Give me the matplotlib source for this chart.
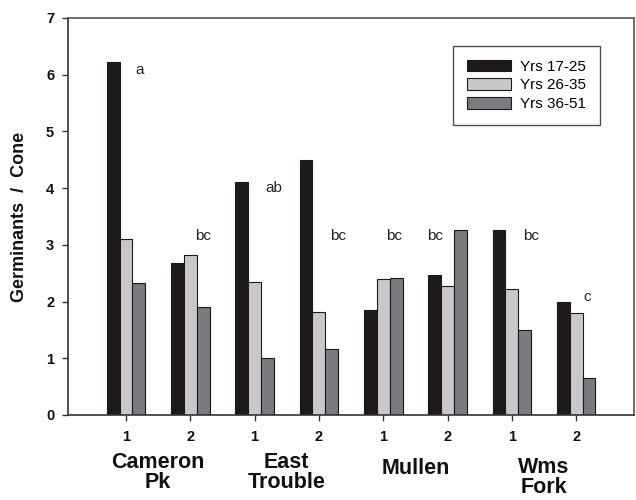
import numpy as np
import matplotlib
matplotlib.use('Agg')
import matplotlib.pyplot as plt
import matplotlib.transforms as mtransforms

plt.rcParams['font.family'] = ['Liberation Sans', 'DejaVu Sans']

# stands and periods
sites = ['Cameron\nPk', 'East\nTrouble', 'Mullen', 'Wms\nFork']
plots = ['1', '2', '1', '2', '1', '2', '1', '2']
series_names = ['Yrs 17-25', 'Yrs 26-35', 'Yrs 36-51']
yrs_17_25 = [6.22, 2.68, 4.10, 4.50, 1.86, 2.47, 3.26, 2.00]
yrs_26_35 = [3.11, 2.82, 2.34, 1.82, 2.39, 2.27, 2.23, 1.79]
yrs_36_51 = [2.32, 1.90, 1.00, 1.16, 2.41, 3.27, 1.49, 0.65]
sig_letters = ['a', 'bc', 'ab', 'bc', 'bc', 'bc', 'bc', 'c']
sig_x_off = [0.14, 0.07, 0.16, 0.17, 0.04, -0.07, 0.17, 0.11]
sig_y = [6.08, 3.16, 4.00, 3.16, 3.16, 3.16, 3.16, 2.08]

colors = ['#1e1a1b', '#c8c8ca', '#7b7b7f']
width = 0.2

fig = plt.figure(figsize=(6.36, 5.0), dpi=100)
ax = fig.add_axes([0.107, 0.17, 0.89, 0.794])

x = np.arange(len(plots))
for i, vals in enumerate([yrs_17_25, yrs_26_35, yrs_36_51]):
	ax.bar(x + (i - 1) * width, vals, width, color=colors[i], edgecolor='#1a1a1a',
		linewidth=0.8, label=series_names[i], zorder=2)

for k in range(len(plots)):
	ax.text(x[k] + sig_x_off[k], sig_y[k], sig_letters[k], ha='left' if k != 5 else 'right',
		va='center', fontsize=11, color='#222222')

ax.set_xlim(-0.9, 7.9)
ax.set_ylim(0, 7)
ax.set_yticks(range(0, 8))
ax.set_xticks(x)
ax.set_xticklabels(plots)
ax.tick_params(axis='both', direction='out', length=4, width=1, labelsize=10.5, colors='#333333')
for lab in ax.get_xticklabels() + ax.get_yticklabels():
	lab.set_fontweight('bold')
	lab.set_color('#111111')
ax.tick_params(axis='x', pad=7)
ax.tick_params(axis='y', pad=6)

for s in ['left', 'bottom']:
	ax.spines[s].set_color('#333333')
	ax.spines[s].set_linewidth(1.2)
for s in ['top', 'right']:
	ax.spines[s].set_color('#555555')
	ax.spines[s].set_linewidth(1.2)

ax.set_ylabel('Germinants  /  Cone', fontsize=13, fontweight='bold', labelpad=13, color='#111111')

# site names under each pair of plots
trans = mtransforms.blended_transform_factory(ax.transData, ax.transAxes)
site_y = [-0.093, -0.093, -0.108, -0.106]
for j, name in enumerate(sites):
	ax.text(2 * j + 0.5, site_y[j], name, transform=trans, ha='center', va='top',
		fontsize=15.5, fontweight='bold', linespacing=0.95, color='#111111')

leg = ax.legend(loc='upper right', bbox_to_anchor=(0.94, 0.93), fontsize=11,
	frameon=True, fancybox=False, edgecolor='#222222', handlelength=2.9, handleheight=0.8,
	labelspacing=0.3, borderpad=0.9, handletextpad=0.6, borderaxespad=0)
leg.get_frame().set_linewidth(1.0)

fig.savefig('out.png', dpi=100)
